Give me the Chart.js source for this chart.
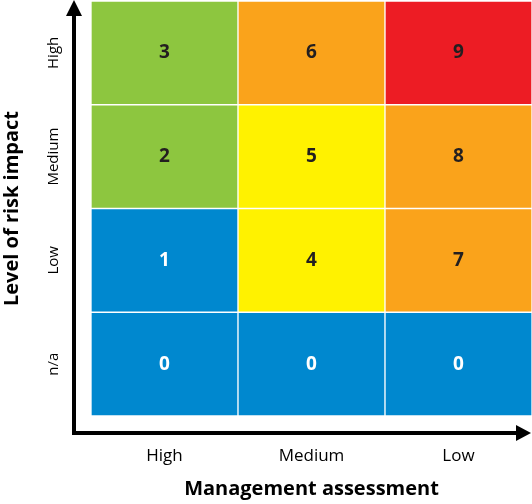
<!DOCTYPE html>
<html>
<head>
<meta charset="utf-8">
<script src="https://cdn.jsdelivr.net/npm/chart.js@4"></script>
<style>
  html, body { margin: 0; padding: 0; background: #fff; }
  #wrap { width: 532px; height: 504px; }
</style>
</head>
<body>
<div id="wrap"><canvas id="risk-matrix"></canvas></div>
<script>
// management assessment (columns) and risk impact (rows, top to bottom)
const assessments = ["High", "Medium", "Low"];
const impactLevels = ["High", "Medium", "Low", "n/a"];

// scores per impact row, one per assessment column
const scoresHigh = [3, 6, 9];
const scoresMedium = [2, 5, 8];
const scoresLow = [1, 4, 7];
const scoresNA = [0, 0, 0];

const FONT = "'Open Sans', 'Noto Sans', sans-serif";
const BLUE = "#0088cf";

function scoreColor(s) {
  if (s <= 1) return BLUE;
  if (s <= 3) return "#8dc63f";
  if (s <= 5) return "#fff200";
  if (s <= 8) return "#faa31b";
  return "#ed1c24";
}

// bottom row first, so the stack builds upward
const rows = [scoresNA, scoresLow, scoresMedium, scoresHigh];

const datasets = rows.map((scores, i) => ({
  label: impactLevels[impactLevels.length - 1 - i],
  data: scores.map(() => 1),
  scores: scores,
  backgroundColor: scores.map(scoreColor),
  borderColor: "#fff",
  borderWidth: 1,
  borderSkipped: false,
  barPercentage: 1,
  categoryPercentage: 1
}));

const cellLabels = {
  id: "cellLabels",
  afterDatasetsDraw(chart) {
    const ctx = chart.ctx;
    ctx.save();
    ctx.font = "bold 19px " + FONT;
    ctx.textAlign = "center";
    ctx.textBaseline = "middle";
    chart.data.datasets.forEach((ds, i) => {
      chart.getDatasetMeta(i).data.forEach((bar, j) => {
        const s = ds.scores[j];
        ctx.fillStyle = scoreColor(s) === BLUE ? "#fff" : "#231f20";
        ctx.fillText(String(s), bar.x, (bar.y + bar.base) / 2);
      });
    });
    ctx.restore();
  }
};

const arrows = {
  id: "arrows",
  afterDraw(chart) {
    const ctx = chart.ctx;
    const a = chart.chartArea;
    const ax = a.left - 17;
    const ay = a.bottom + 17;
    ctx.save();
    ctx.strokeStyle = "#000";
    ctx.fillStyle = "#000";
    ctx.lineWidth = 4;
    ctx.beginPath();
    ctx.moveTo(ax, a.top + 12);
    ctx.lineTo(ax, ay);
    ctx.lineTo(a.right - 12, ay);
    ctx.stroke();
    // up arrowhead
    ctx.beginPath();
    ctx.moveTo(ax, a.top - 1);
    ctx.lineTo(ax - 8, a.top + 15);
    ctx.lineTo(ax + 8, a.top + 15);
    ctx.closePath();
    ctx.fill();
    // right arrowhead
    ctx.beginPath();
    ctx.moveTo(a.right - 1, ay);
    ctx.lineTo(a.right - 16, ay - 8);
    ctx.lineTo(a.right - 16, ay + 8);
    ctx.closePath();
    ctx.fill();
    ctx.restore();
  }
};

new Chart(document.getElementById("risk-matrix"), {
  type: "bar",
  data: { labels: assessments, datasets: datasets },
  options: {
    responsive: true,
    maintainAspectRatio: false,
    animation: false,
    layout: { padding: { top: 1, right: 0, bottom: 0, left: 0 } },
    plugins: {
      legend: { display: false },
      tooltip: { enabled: false }
    },
    scales: {
      x: {
        stacked: true,
        grid: { display: false, drawTicks: false },
        border: { display: false },
        ticks: { color: "#000", font: { family: FONT, size: 17 }, padding: 30 },
        title: {
          display: true,
          text: "Management assessment",
          color: "#000",
          font: { family: FONT, size: 20, weight: "bold" },
          padding: { top: 0, bottom: 3 }
        },
        afterFit(scale) {
          scale.height = 88;
          scale.paddingLeft = 0;
          scale.paddingRight = 0;
        }
      },
      y: {
        display: false,
        stacked: true,
        min: 0,
        max: 4
      },
      impact: {
        type: "category",
        position: "left",
        labels: impactLevels,
        offset: true,
        grid: { display: false, drawTicks: false },
        border: { display: false },
        ticks: {
          color: "#000",
          font: { family: FONT, size: 15 },
          minRotation: 90,
          maxRotation: 90,
          crossAlign: "center",
          padding: 8
        },
        title: {
          display: true,
          text: "Level of risk impact",
          color: "#000",
          font: { family: FONT, size: 20, weight: "bold" },
          padding: { top: 0, bottom: 0 }
        },
        afterFit(scale) {
          scale.width = 91;
          scale.paddingTop = 0;
          scale.paddingBottom = 0;
        }
      }
    }
  },
  plugins: [cellLabels, arrows]
});
</script>
</body>
</html>
